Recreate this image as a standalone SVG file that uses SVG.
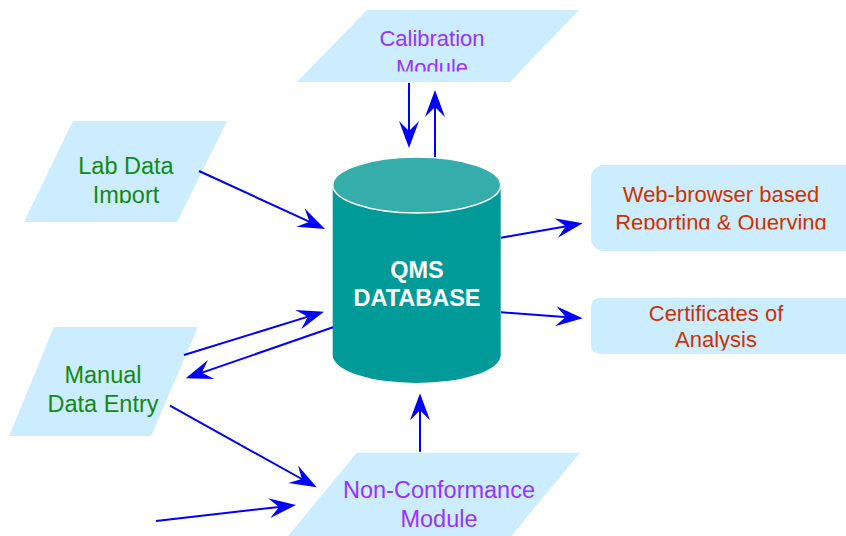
<svg xmlns="http://www.w3.org/2000/svg" width="846" height="536" viewBox="0 0 846 536">
<style>
.para{fill:#CCECFF;stroke:none}
.box{fill:#CCECFF;stroke:none}
.t{font-family:"Liberation Sans",Arial,sans-serif;text-anchor:middle}
.purple{fill:#9933FF;font-size:22px}
.purple24{fill:#9933FF;font-size:23.5px}
.green{fill:#138A13;font-size:23.5px}
.red{fill:#CC3300;font-size:22px}
.db{fill:#FFFFFF;font-size:23.5px;font-weight:bold}
.conn{stroke:#0000FF;stroke-width:2;fill:none;marker-end:url(#ah)}
</style>
<defs>
<marker id="ah" markerUnits="userSpaceOnUse" markerWidth="32" markerHeight="24" viewBox="-30 -12 32 24" refX="-15" refY="0" orient="auto">
<path d="M0,0 L-27,-10 L-17,0 L-27,10 Z" fill="#0000FF"/>
</marker>
<clipPath id="clipCal"><rect x="280" y="0" width="320" height="71.5"/></clipPath>
<clipPath id="clipLab"><rect x="0" y="110" width="260" height="93"/></clipPath>
<clipPath id="clipWeb"><rect x="580" y="160" width="266" height="69.5"/></clipPath>
<clipPath id="clipCert"><rect x="580" y="290" width="266" height="60.5"/></clipPath>
</defs>

<g id="calibration">
<polygon class="para" points="367,10 579,10 510,82 297,82"/>
<g clip-path="url(#clipCal)">
<text class="t purple" x="432" y="46">Calibration</text>
<text class="t purple" x="432" y="75">Module</text>
</g>
</g>

<g id="labdata">
<polygon class="para" points="73,121 227,121 177,222 24,222"/>
<g clip-path="url(#clipLab)">
<text class="t green" x="126" y="174">Lab Data</text>
<text class="t green" x="126" y="203">Import</text>
</g>
</g>

<g id="database">
<path d="M332.7,185 L332.7,355 A84,28 0 0 0 500.7,355 L500.7,185 Z" fill="#009A98"/>
<ellipse cx="416.7" cy="185" rx="84" ry="28" fill="#35AEAB" stroke="#FFFFFF" stroke-width="1.5"/>
<text class="t db" x="417" y="278">QMS</text>
<text class="t db" x="417" y="306">DATABASE</text>
</g>

<g id="webreport">
<rect class="box" x="591" y="165" width="275" height="86" rx="13" ry="13"/>
<g clip-path="url(#clipWeb)">
<text class="t red" x="721" y="201.7">Web-browser based</text>
<text class="t red" x="721" y="229.8">Reporting &amp; Querying</text>
</g>
</g>

<g id="certificates">
<rect class="box" x="591" y="297.7" width="275" height="56.3" rx="9" ry="9"/>
<g clip-path="url(#clipCert)">
<text class="t red" x="716" y="320.7">Certificates of</text>
<text class="t red" x="716" y="347">Analysis</text>
</g>
</g>

<g id="manual">
<polygon class="para" points="54,327 198,327 151,436 9,436"/>
<text class="t green" x="103" y="383.3">Manual</text>
<text class="t green" x="103" y="411.7">Data Entry</text>
</g>

<g id="nonconformance">
<polygon class="para" points="356.7,452.7 580,452.7 508,540 285,540"/>
<text class="t purple24" x="439" y="498.3">Non-Conformance</text>
<text class="t purple24" x="439" y="526.7">Module</text>
</g>

<g id="connectors">
<line class="conn" x1="409" y1="83" x2="409" y2="133"/>
<line class="conn" x1="435" y1="157" x2="435" y2="105"/>
<line class="conn" x1="199" y1="171" x2="311.4" y2="222.7"/>
<line class="conn" x1="501" y1="237.7" x2="567.9" y2="225.9"/>
<line class="conn" x1="501" y1="312.3" x2="567.7" y2="317.2"/>
<line class="conn" x1="184" y1="355" x2="309.7" y2="316.1"/>
<line class="conn" x1="333" y1="327.3" x2="199.9" y2="373.4"/>
<line class="conn" x1="170" y1="405.7" x2="303.6" y2="480"/>
<line class="conn" x1="156" y1="521" x2="281.1" y2="506.7"/>
<line class="conn" x1="420" y1="451.7" x2="420" y2="408.3"/>
</g>
</svg>
